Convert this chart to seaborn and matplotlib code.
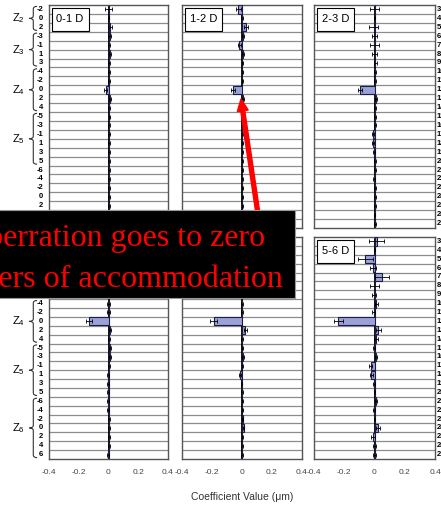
import numpy as np
import pandas as pd
import matplotlib
matplotlib.use("Agg")
import matplotlib.pyplot as plt
import matplotlib.transforms as mtransforms
from matplotlib.patches import Rectangle, FancyArrow, PathPatch
from matplotlib.path import Path
import seaborn as sns

plt.rcParams["font.family"] = ["Liberation Sans", "DejaVu Sans"]
plt.rcParams["mathtext.fontset"] = "custom"
plt.rcParams["mathtext.rm"] = "Liberation Sans"
plt.rcParams["mathtext.it"] = "Liberation Sans:italic"

# Zernike terms: radial orders and angular frequencies, one row per mode
radial_orders = [2, 3, 4, 5, 6]
angular_freqs = [-2, 0, 2, -3, -1, 1, 3, -4, -2, 0, 2, 4,
                 -5, -3, -1, 1, 3, 5, -6, -4, -2, 0, 2, 4, 6]
mode_numbers = list(range(3, 28))

panel_labels = ["0-1 D", "1-2 D", "2-3 D", "3-4 D", "4-5 D", "5-6 D"]

coef_0_1 = [0.000, 0.000, 0.010, 0.008, 0.004, 0.008, 0.003, 0.002, 0.002, -0.020,
            0.008, 0.002, 0.006, 0.004, 0.002, 0.004, 0.003, 0.003, 0.004, 0.003,
            0.002, 0.003, 0.002, 0.002, 0.002]
err_0_1 = [0.025, 0.005, 0.015, 0.010, 0.008, 0.008, 0.008, 0.006, 0.006, 0.013,
           0.008, 0.006, 0.006, 0.006, 0.005, 0.005, 0.005, 0.005, 0.005, 0.005,
           0.005, 0.005, 0.005, 0.005, 0.005]

coef_1_2 = [-0.025, 0.000, 0.028, 0.004, -0.018, 0.004, 0.003, 0.003, 0.003, -0.060,
            0.008, 0.003, 0.003, 0.002, 0.003, 0.002, 0.003, 0.002, 0.003, 0.003,
            0.002, 0.003, 0.002, 0.002, 0.002]
err_1_2 = [0.015, 0.005, 0.015, 0.006, 0.010, 0.006, 0.006, 0.005, 0.005, 0.012,
           0.008, 0.005, 0.005, 0.005, 0.005, 0.005, 0.005, 0.005, 0.005, 0.005,
           0.005, 0.005, 0.005, 0.005, 0.005]

coef_2_3 = [0.000, 0.000, -0.005, 0.000, -0.002, 0.000, 0.004, 0.002, 0.002, -0.093,
            0.010, 0.005, 0.004, 0.003, -0.008, -0.008, -0.004, 0.002, 0.003, -0.004,
            0.003, 0.004, 0.002, 0.000, 0.002]
err_2_3 = [0.030, 0.005, 0.030, 0.015, 0.030, 0.015, 0.010, 0.006, 0.006, 0.013,
           0.008, 0.006, 0.006, 0.006, 0.006, 0.006, 0.005, 0.005, 0.005, 0.005,
           0.005, 0.005, 0.005, 0.005, 0.005]

coef_3_4 = [0.010, 0.000, 0.010, 0.005, 0.005, 0.003, 0.003, 0.000, 0.000, -0.130,
            0.008, 0.003, 0.010, 0.008, 0.003, -0.004, -0.003, -0.002, -0.002, -0.002,
            0.002, 0.002, 0.002, 0.002, -0.004]
err_3_4 = [0.010, 0.005, 0.010, 0.008, 0.008, 0.006, 0.006, 0.008, 0.008, 0.018,
           0.008, 0.006, 0.006, 0.006, 0.005, 0.005, 0.005, 0.005, 0.005, 0.005,
           0.005, 0.005, 0.005, 0.005, 0.005]

coef_4_5 = [0.005, 0.000, 0.005, 0.003, 0.003, 0.003, 0.002, 0.000, 0.000, -0.190,
            0.022, 0.000, 0.003, 0.004, 0.002, -0.015, -0.003, 0.000, 0.002, 0.003,
            0.004, 0.010, 0.003, 0.000, 0.000]
err_4_5 = [0.010, 0.005, 0.010, 0.008, 0.008, 0.006, 0.006, 0.008, 0.008, 0.025,
           0.010, 0.006, 0.006, 0.006, 0.005, 0.008, 0.005, 0.005, 0.005, 0.005,
           0.005, 0.006, 0.005, 0.005, 0.005]

coef_5_6 = [0.015, 0.000, -0.060, -0.012, 0.050, 0.000, -0.003, 0.010, -0.006, -0.240,
            0.025, 0.010, -0.005, 0.010, -0.025, -0.020, -0.004, 0.000, 0.008, -0.006,
            0.000, 0.022, -0.010, 0.000, 0.000]
err_5_6 = [0.050, 0.005, 0.050, 0.020, 0.045, 0.030, 0.015, 0.010, 0.008, 0.030,
           0.015, 0.012, 0.008, 0.008, 0.010, 0.010, 0.006, 0.006, 0.006, 0.006,
           0.006, 0.015, 0.015, 0.012, 0.012]

panel_coefs = [coef_0_1, coef_1_2, coef_2_3, coef_3_4, coef_4_5, coef_5_6]
panel_errs = [err_0_1, err_1_2, err_2_3, err_3_4, err_4_5, err_5_6]

x_ticks = [-0.4, -0.2, 0, 0.2, 0.4]
x_tick_labels = ["-0.4", "-0.2", "0", "0.2", "0.4"]

callout_lines = ["Spherical aberration goes to zero",
                 "at 1-2 diopters of accommodation"]

BAR_COLOR = "#9aa2d8"
W, H = 441, 508

# callout box extent in pixels (left, top, right, bottom)
BOX = (-5, 210, 295, 298)

fig = plt.figure(figsize=(W / 100, H / 100), dpi=100)
fig.patch.set_facecolor("white")


def fx(px):
    return px / W


def fy(py):
    return 1 - py / H


col_edges = [(49, 168), (182, 302), (314, 435)]
row_edges = [(5, 228), (237, 459)]


def row_px(r, i):
    y0, y1 = row_edges[r]
    return y0 + (y1 - y0) * (i + 0.5) / len(mode_numbers)


def under_box(px_x, px_y):
    return BOX[0] <= px_x <= BOX[2] and BOX[1] <= px_y <= BOX[3]


def draw_brace(ax, trans, y0, y1):
    xe, xm, xt = -0.100, -0.132, -0.165
    yc = (y0 + y1) / 2
    r = 0.3
    verts = [(xe, y0), (xm, y0), (xm, y0 + r), (xm, yc - r),
             (xm, yc), (xt, yc), (xm, yc), (xm, yc + r),
             (xm, y1 - r), (xm, y1), (xe, y1)]
    codes = [Path.MOVETO, Path.CURVE3, Path.CURVE3, Path.LINETO,
             Path.CURVE3, Path.CURVE3, Path.CURVE3, Path.CURVE3,
             Path.LINETO, Path.CURVE3, Path.CURVE3]
    ax.add_patch(PathPatch(Path(verts, codes), transform=trans, fill=False,
                           lw=0.8, edgecolor="#333333", clip_on=False))


order = [str(m) for m in mode_numbers]
n_rows = len(mode_numbers)

for k in range(6):
    r, c = divmod(k, 3)
    x0, x1 = col_edges[c]
    y0, y1 = row_edges[r]
    ax = fig.add_axes([fx(x0), fy(y1), (x1 - x0) / W, (y1 - y0) / H])

    df = pd.DataFrame({"mode": order, "value": panel_coefs[k]})
    sns.barplot(data=df, x="value", y="mode", order=order, orient="h",
                color=BAR_COLOR, saturation=1, edgecolor="#1c1c45",
                linewidth=0.8, width=0.92, errorbar=None, ax=ax, zorder=3)
    ax.hlines(np.arange(n_rows - 1) + 0.5, -0.4, 0.4, color="#8c8c8c",
              lw=0.9, zorder=1)
    ax.axvline(0, color="black", lw=1.3, zorder=2)
    ax.errorbar(panel_coefs[k], np.arange(n_rows), xerr=panel_errs[k],
                fmt="none", ecolor="black", elinewidth=0.6, capsize=1.3,
                capthick=0.6, zorder=4)

    ax.set_xlim(-0.4, 0.4)
    ax.set_ylim(n_rows - 0.5, -0.5)
    ax.set_yticks([])
    ax.set_xlabel("")
    ax.set_ylabel("")
    ax.set_xticks(x_ticks)
    ax.set_xticklabels(x_tick_labels)
    ax.tick_params(axis="x", length=0, pad=7, labelsize=6, labelcolor="#444444",
                   labelbottom=(r == 1))
    for sp in ax.spines.values():
        sp.set_color("#555555")
        sp.set_linewidth(1.0)

    # panel label box (skipped where the callout covers it)
    if not under_box(x0 + 20, y0 + 15):
        ax.add_patch(Rectangle((0.022, 0.885), 0.31, 0.10, transform=ax.transAxes,
                               facecolor="white", edgecolor="black", lw=0.8,
                               zorder=5))
        ax.text(0.177, 0.935, panel_labels[k], transform=ax.transAxes,
                ha="center", va="center", fontsize=8, zorder=6)

    trans = mtransforms.blended_transform_factory(ax.transAxes, ax.transData)
    if c == 0:
        start = 0
        for n in radial_orders:
            count = n + 1
            visible = [i for i in range(start, start + count)
                       if not under_box(40, row_px(r, i))]
            for i in visible:
                ax.text(-0.05, i, str(angular_freqs[i]), transform=trans,
                        ha="right", va="center", fontsize=5.5,
                        fontweight="bold", clip_on=False)
            if len(visible) == count:
                draw_brace(ax, trans, start - 0.35, start + count - 1 + 0.35)
                ax.text(-0.26, start + (count - 1) / 2, "Z$_{%d}$" % n,
                        transform=trans, ha="center", va="center", fontsize=8,
                        clip_on=False)
            start += count
    if c == 2:
        for i, m in enumerate(mode_numbers):
            ax.text(1.015, i, str(m), transform=trans, ha="left", va="center",
                    fontsize=5.5, fontweight="bold", clip_on=False)

fig.text(fx(242), fy(497), "Coefficient Value (\u03bcm)", ha="center",
         va="center", fontsize=7.5, color="#333333")

# callout arrow pointing at the spherical term of the 1-2 D panel
inch = fig.dpi_scale_trans
tail = (258 / 100, (H - 214) / 100)
tip = (241 / 100, (H - 99) / 100)
fig.add_artist(FancyArrow(tail[0], tail[1], tip[0] - tail[0], tip[1] - tail[1],
                          width=0.04, head_width=0.11, head_length=0.12,
                          length_includes_head=True, color="#ff0000",
                          transform=inch, zorder=15))

# callout box
fig.add_artist(Rectangle((fx(BOX[0]), fy(BOX[3])), fx(BOX[2]) - fx(BOX[0]),
                         (BOX[3] - BOX[1]) / H, transform=fig.transFigure,
                         facecolor="black", edgecolor="#999999", lw=0.8,
                         zorder=20))
fig.text(fx(265), fy(246), callout_lines[0], ha="right", va="baseline",
         color="#ff0000", fontsize=23, family="Liberation Serif", zorder=21)
fig.text(fx(283), fy(287), callout_lines[1], ha="right", va="baseline",
         color="#ff0000", fontsize=23, family="Liberation Serif", zorder=21)

fig.savefig("out.png", dpi=100)
